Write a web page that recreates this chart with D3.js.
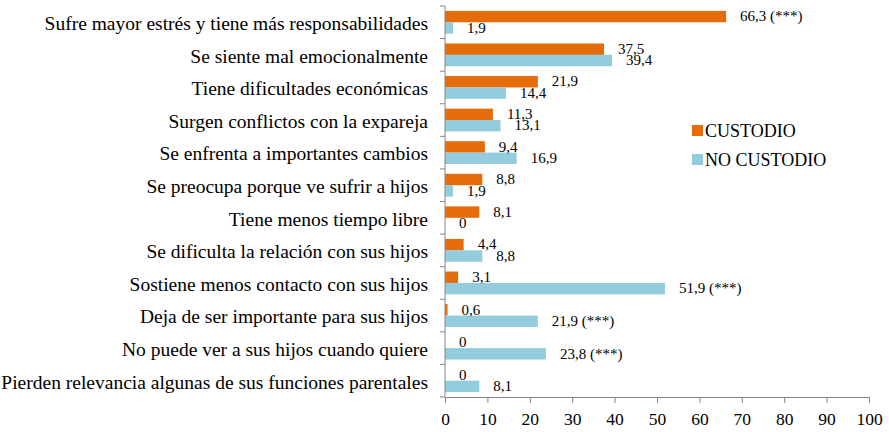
<!DOCTYPE html>
<html>
<head>
<meta charset="utf-8">
<script src="https://cdn.jsdelivr.net/npm/d3@7"></script>
</head>
<body style="margin:0;background:#fff">
<svg width="889" height="432"></svg>
<script>
// categories top to bottom
var categories = [
  "Sufre mayor estrés y tiene más responsabilidades",
  "Se siente mal emocionalmente",
  "Tiene dificultades económicas",
  "Surgen conflictos con la expareja",
  "Se enfrenta a importantes cambios ",
  "Se preocupa porque ve sufrir a hijos",
  "Tiene menos tiempo libre",
  "Se dificulta la relación con sus hijos",
  "Sostiene menos contacto con sus hijos",
  "Deja de ser importante para sus hijos",
  "No puede ver a sus hijos cuando quiere",
  "Pierden relevancia algunas de sus funciones parentales"
];
var custodio    = [66.3, 37.5, 21.9, 11.3, 9.4, 8.8, 8.1, 4.4, 3.1, 0.6, 0, 0];
var noCustodio  = [1.9, 39.4, 14.4, 13.1, 16.9, 1.9, 0, 8.8, 51.9, 21.9, 23.8, 8.1];
var custodioLbl   = ["66,3 (***)", "37,5", "21,9", "11,3", "9,4", "8,8", "8,1", "4,4", "3,1", "0,6", "0", "0"];
var noCustodioLbl = ["1,9", "39,4", "14,4", "13,1", "16,9", "1,9", "0", "8,8", "51,9 (***)", "21,9 (***)", "23,8 (***)", "8,1"];
var series = ["CUSTODIO", "NO CUSTODIO"];
var xTicks = [0, 10, 20, 30, 40, 50, 60, 70, 80, 90, 100];

var colors = {"CUSTODIO": "#E46C0A", "NO CUSTODIO": "#93CDDD"};
var fontName = "Liberation Serif";

var svg = d3.select("svg");

var x = d3.scaleLinear().domain([0, 100]).range([445, 869]);
var y = d3.scaleBand().domain(categories).range([6, 397])
    .paddingInner(0.3).paddingOuter(0.15);
var ySub = d3.scaleBand().domain(series).range([0, y.bandwidth()]);

var rows = categories.map(function(c, i) {
  return {cat: c, vals: [
    {s: "CUSTODIO", v: custodio[i], lbl: custodioLbl[i]},
    {s: "NO CUSTODIO", v: noCustodio[i], lbl: noCustodioLbl[i]}
  ]};
});

// bars
var grp = svg.selectAll(".cat")
    .data(rows)
    .enter().append("g")
    .attr("class", "cat")
    .attr("transform", function(d) { return "translate(0," + y(d.cat) + ")"; });

grp.selectAll("rect")
    .data(function(d) { return d.vals; })
    .enter().append("rect")
    .attr("x", x(0))
    .attr("y", function(d) { return ySub(d.s); })
    .attr("width", function(d) { return x(d.v) - x(0); })
    .attr("height", ySub.bandwidth())
    .style("fill", function(d) { return colors[d.s]; });

// value labels
grp.selectAll(".val")
    .data(function(d) { return d.vals; })
    .enter().append("text")
    .attr("class", "val")
    .attr("x", function(d) { return x(d.v) + 14; })
    .attr("y", function(d) { return ySub(d.s) + ySub.bandwidth() - 1; })
    .attr("font-family", fontName)
    .attr("font-size", 15)
    .text(function(d) { return d.lbl; });

// x axis
var xAxis = d3.axisBottom(x).tickValues(xTicks).tickSize(6).tickSizeOuter(0);
var gx = svg.append("g")
    .attr("transform", "translate(0,397)")
    .call(xAxis)
    .attr("font-family", fontName)
    .attr("font-size", 17.5);
gx.select(".domain").attr("stroke", "#868686");
gx.selectAll(".tick line").attr("stroke", "#868686");
gx.selectAll(".tick text")
    .attr("y", 28)
    .attr("dy", null)
    .attr("fill", "#000");

// y axis line with ticks at category boundaries
svg.append("line")
    .attr("x1", x(0)).attr("x2", x(0))
    .attr("y1", 6).attr("y2", 397)
    .attr("stroke", "#868686");

var bounds = d3.range(categories.length + 1).map(function(i) { return 6 + i * y.step(); });
svg.selectAll(".ytick")
    .data(bounds)
    .enter().append("line")
    .attr("class", "ytick")
    .attr("x1", x(0) - 5).attr("x2", x(0))
    .attr("y1", function(d) { return d; }).attr("y2", function(d) { return d; })
    .attr("stroke", "#868686");

// category labels
svg.selectAll(".catlbl")
    .data(categories)
    .enter().append("text")
    .attr("class", "catlbl")
    .attr("x", 428)
    .attr("y", function(d) { return y(d) + y.bandwidth() / 2; })
    .attr("dy", "0.4em")
    .attr("text-anchor", "end")
    .attr("font-family", fontName)
    .attr("font-size", 19.5)
    .text(function(d) { return d; });

// legend
var legend = svg.selectAll(".legend")
    .data(series)
    .enter().append("g")
    .attr("class", "legend")
    .attr("transform", function(d, i) { return "translate(692," + (125 + i * 29) + ")"; });

legend.append("rect")
    .attr("width", 11)
    .attr("height", 11)
    .style("fill", function(d) { return colors[d]; });

legend.append("text")
    .attr("x", 13)
    .attr("y", 11.5)
    .attr("font-family", fontName)
    .attr("font-size", 18)
    .text(function(d) { return d; });
</script>
</body>
</html>
